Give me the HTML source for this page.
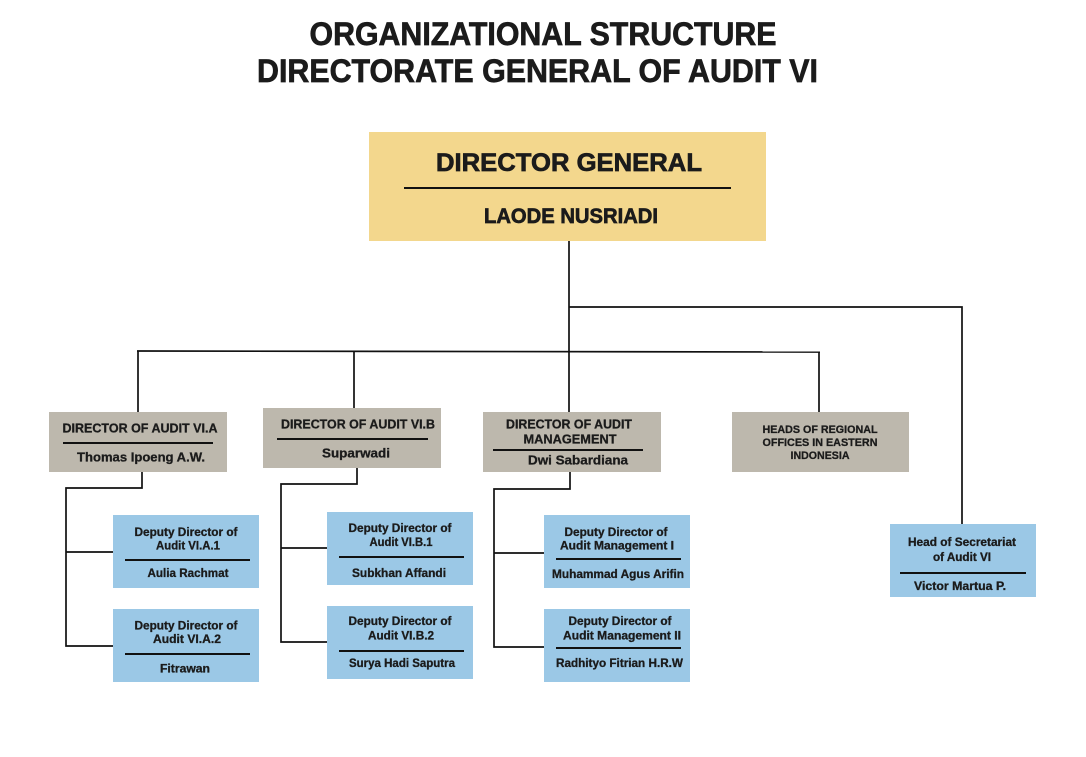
<!DOCTYPE html>
<html><head><meta charset="utf-8"><style>
html,body{margin:0;padding:0;background:#fff;}
svg{display:block;}
text{font-family:"Liberation Sans",sans-serif;font-weight:bold;fill:#1b1b1b;text-anchor:middle;stroke:#1b1b1b;stroke-width:0.3;}
text.big{stroke-width:0.7;}
</style></head><body>
<svg width="1086" height="757" viewBox="0 0 1086 757" xmlns="http://www.w3.org/2000/svg">
<rect width="1086" height="757" fill="#fff"/>
<!-- Title -->
<text class="big" x="543" y="45" font-size="32" textLength="467" lengthAdjust="spacingAndGlyphs" fill="#111">ORGANIZATIONAL STRUCTURE</text>
<text class="big" x="537.5" y="82" font-size="32" textLength="561" lengthAdjust="spacingAndGlyphs" fill="#111">DIRECTORATE GENERAL OF  AUDIT VI</text>

<!-- Connectors -->
<g stroke="#111" stroke-width="1.7" fill="none">
<line x1="569" y1="241" x2="569" y2="412"/>
<polyline points="569,307 962,307 962,524"/>
<line x1="137" y1="351" x2="820" y2="352"/>
<line x1="138" y1="351" x2="138" y2="412"/>
<line x1="354" y1="351" x2="354" y2="408"/>
<line x1="819" y1="352" x2="819" y2="412"/>
<polyline points="142,472 142,488 66,488 66,646 113,646"/>
<line x1="66" y1="552" x2="113" y2="552"/>
<polyline points="357,468 357,484 281,484 281,642 327,642"/>
<line x1="281" y1="548" x2="327" y2="548"/>
<polyline points="570,472 570,489 494,489 494,647 544,647"/>
<line x1="494" y1="553" x2="544" y2="553"/>
</g>

<!-- Director General -->
<rect x="369" y="132" width="397" height="109" fill="#f3d78d"/>
<text class="big" x="569" y="171" font-size="25" textLength="266" lengthAdjust="spacingAndGlyphs">DIRECTOR GENERAL</text>
<line x1="404" y1="188" x2="731" y2="188" stroke="#111" stroke-width="2"/>
<text class="big" x="571" y="223" font-size="21" textLength="174" lengthAdjust="spacingAndGlyphs">LAODE NUSRIADI</text>

<!-- Director A -->
<rect x="49" y="412" width="178" height="60" fill="#bdb8ad"/>
<text x="140" y="432.5" font-size="12.5" textLength="155" lengthAdjust="spacingAndGlyphs">DIRECTOR OF AUDIT VI.A</text>
<line x1="63" y1="443" x2="213" y2="443" stroke="#111" stroke-width="2"/>
<text x="141" y="461.5" font-size="12.5" textLength="128" lengthAdjust="spacingAndGlyphs">Thomas Ipoeng A.W.</text>

<!-- Director B -->
<rect x="263" y="408" width="178" height="60" fill="#bdb8ad"/>
<text x="358" y="428.5" font-size="12.5" textLength="154" lengthAdjust="spacingAndGlyphs">DIRECTOR OF AUDIT VI.B</text>
<line x1="277" y1="439" x2="428" y2="439" stroke="#111" stroke-width="2"/>
<text x="356" y="457.5" font-size="12.5" textLength="68" lengthAdjust="spacingAndGlyphs">Suparwadi</text>

<!-- Director M -->
<rect x="483" y="412" width="178" height="60" fill="#bdb8ad"/>
<text x="569" y="428.5" font-size="12.5" textLength="126" lengthAdjust="spacingAndGlyphs">DIRECTOR OF AUDIT</text>
<text x="570" y="443.5" font-size="12.5" textLength="93" lengthAdjust="spacingAndGlyphs">MANAGEMENT</text>
<line x1="493" y1="450" x2="643" y2="450" stroke="#111" stroke-width="2"/>
<text x="578" y="464.5" font-size="12.5" textLength="100" lengthAdjust="spacingAndGlyphs">Dwi Sabardiana</text>

<!-- Regional -->
<rect x="732" y="412" width="177" height="60" fill="#bdb8ad"/>
<text x="820" y="433" font-size="11" textLength="115" lengthAdjust="spacingAndGlyphs">HEADS OF REGIONAL</text>
<text x="820" y="446" font-size="11" textLength="115" lengthAdjust="spacingAndGlyphs">OFFICES IN EASTERN</text>
<text x="820" y="459" font-size="11" textLength="59" lengthAdjust="spacingAndGlyphs">INDONESIA</text>

<!-- Deputy A1 -->
<rect x="113" y="515" width="146" height="73" fill="#9bc8e6"/>
<text x="186" y="536" font-size="11.5" textLength="103" lengthAdjust="spacingAndGlyphs">Deputy Director of</text>
<text x="188" y="549.5" font-size="11.5" textLength="64" lengthAdjust="spacingAndGlyphs">Audit VI.A.1</text>
<line x1="125" y1="560" x2="250" y2="560" stroke="#111" stroke-width="2"/>
<text x="188" y="577" font-size="11.5" textLength="81" lengthAdjust="spacingAndGlyphs">Aulia Rachmat</text>

<!-- Deputy A2 -->
<rect x="113" y="609" width="146" height="73" fill="#9bc8e6"/>
<text x="186" y="629.5" font-size="11.5" textLength="103" lengthAdjust="spacingAndGlyphs">Deputy Director of</text>
<text x="187" y="643" font-size="11.5" textLength="68" lengthAdjust="spacingAndGlyphs">Audit  VI.A.2</text>
<line x1="125" y1="654" x2="250" y2="654" stroke="#111" stroke-width="2"/>
<text x="185" y="672.5" font-size="11.5" textLength="50" lengthAdjust="spacingAndGlyphs">Fitrawan</text>

<!-- Deputy B1 -->
<rect x="327" y="512" width="146" height="73" fill="#9bc8e6"/>
<text x="400" y="532" font-size="11.5" textLength="103" lengthAdjust="spacingAndGlyphs">Deputy Director of</text>
<text x="401" y="546" font-size="11.5" textLength="63" lengthAdjust="spacingAndGlyphs">Audit VI.B.1</text>
<line x1="339" y1="557" x2="464" y2="557" stroke="#111" stroke-width="2"/>
<text x="399" y="577" font-size="11.5" textLength="94" lengthAdjust="spacingAndGlyphs">Subkhan Affandi</text>

<!-- Deputy B2 -->
<rect x="327" y="606" width="146" height="73" fill="#9bc8e6"/>
<text x="400" y="625" font-size="11.5" textLength="103" lengthAdjust="spacingAndGlyphs">Deputy Director of</text>
<text x="401" y="639.5" font-size="11.5" textLength="66" lengthAdjust="spacingAndGlyphs">Audit  VI.B.2</text>
<line x1="339" y1="651" x2="464" y2="651" stroke="#111" stroke-width="2"/>
<text x="402" y="667" font-size="11.5" textLength="106" lengthAdjust="spacingAndGlyphs">Surya Hadi Saputra</text>

<!-- Deputy M1 -->
<rect x="544" y="515" width="146" height="73" fill="#9bc8e6"/>
<text x="616" y="536" font-size="11.5" textLength="103" lengthAdjust="spacingAndGlyphs">Deputy Director of</text>
<text x="617" y="549.5" font-size="11.5" textLength="114" lengthAdjust="spacingAndGlyphs">Audit Management I</text>
<line x1="556" y1="559" x2="681" y2="559" stroke="#111" stroke-width="2"/>
<text x="618" y="578" font-size="11.5" textLength="132" lengthAdjust="spacingAndGlyphs">Muhammad Agus Arifin</text>

<!-- Deputy M2 -->
<rect x="544" y="609" width="146" height="73" fill="#9bc8e6"/>
<text x="620" y="625" font-size="11.5" textLength="103" lengthAdjust="spacingAndGlyphs">Deputy Director of</text>
<text x="622" y="639.5" font-size="11.5" textLength="118" lengthAdjust="spacingAndGlyphs">Audit Management II</text>
<line x1="556" y1="648" x2="681" y2="648" stroke="#111" stroke-width="2"/>
<text x="619.5" y="667" font-size="11.5" textLength="127" lengthAdjust="spacingAndGlyphs">Radhityo Fitrian H.R.W</text>

<!-- Secretariat -->
<rect x="890" y="524" width="146" height="73" fill="#9bc8e6"/>
<text x="962" y="546" font-size="11.5" textLength="108" lengthAdjust="spacingAndGlyphs">Head of Secretariat</text>
<text x="962" y="561" font-size="11.5" textLength="58" lengthAdjust="spacingAndGlyphs">of Audit VI</text>
<line x1="900" y1="573" x2="1026" y2="573" stroke="#111" stroke-width="2"/>
<text x="960" y="590" font-size="11.5" textLength="92" lengthAdjust="spacingAndGlyphs">Victor Martua P.</text>
</svg>
</body></html>
